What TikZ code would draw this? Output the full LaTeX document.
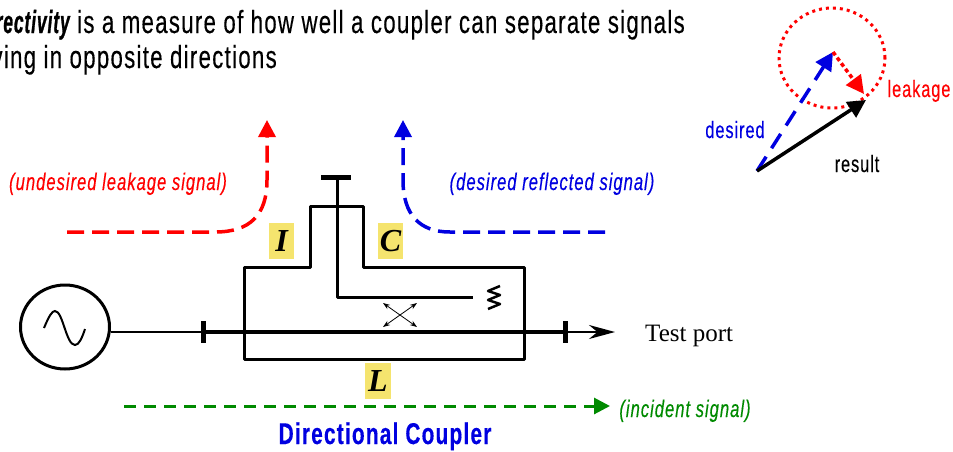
\documentclass[tikz,border=0pt]{standalone}
\usepackage{fontspec}
\usepackage{xcolor}
\setmainfont{Liberation Serif}
\setsansfont{Liberation Sans}[FakeStretch=0.695, LetterSpace=4, FakeBold=0.25]
\newfontfamily\keyword{Liberation Sans}[FakeStretch=0.54, LetterSpace=3, FakeBold=0.8]
\usetikzlibrary{arrows.meta,shapes.geometric}
\definecolor{labelyellow}{HTML}{F5E46E}
\definecolor{sigblue}{HTML}{0000E0}
\definecolor{siggreen}{HTML}{008A00}
\tikzset{
    wire/.style={line width=3pt, line join=round},
    tick/.style={line width=5pt},
    signal/.style={line width=3.5pt, dash pattern=on 17pt off 8pt, -{Triangle[length=17pt,width=17pt]}},
    portlabel/.style={fill=labelyellow, inner sep=0pt, font=\fontsize{32}{32}\selectfont\bfseries\itshape},
    sigtext/.style={font=\sffamily\itshape\fontsize{24}{24}\selectfont, inner sep=0pt, anchor=base},
    vectext/.style={font=\sffamily\fontsize{23.5}{24}\selectfont, inner sep=0pt, anchor=base},
    headtext/.style={font=\sffamily\fontsize{32}{32}\selectfont, inner sep=0pt, anchor=base east},
}
\begin{document}
\begin{tikzpicture}[x=1pt, y=-1pt]
    \useasboundingbox (0,0) rectangle (953,451);

    % Tekst boven
    \node[headtext] (line1) at (685,33) {{\keyword\bfseries\itshape Directivity} is a measure of how well a coupler can separate signals};
    \node[headtext] (line2) at (277,68) {moving in opposite directions};

    % Punten
    \coordinate (TL) at (244,267);
    \coordinate (IT) at (310,267);
    \coordinate (IU) at (310,206);
    \coordinate (CU) at (363,206);
    \coordinate (CT) at (363,267);
    \coordinate (TR) at (524,267);
    \coordinate (BR) at (524,359);
    \coordinate (BL) at (244,359);
    \coordinate (TopA) at (321,177);
    \coordinate (TopB) at (351,177);
    \coordinate (TopM) at (337,177);
    \coordinate (Bend) at (337,297);
    \coordinate (ArmEnd) at (473,297);
    \coordinate (PortA) at (203,332);
    \coordinate (PortB) at (565,332);
    \coordinate (PortEnd) at (615,332);

    % Labels op geel
    \node[portlabel, minimum width=25pt, minimum height=36pt] (I) at (281.5,241) {I};
    \node[portlabel, minimum width=25pt, minimum height=36pt] (C) at (390.5,241) {C};
    \node[portlabel, minimum width=26pt, minimum height=36pt] (L) at (378,381) {L};

    % Koppelaar
    \draw[wire] (TL) -- (IT) -- (IU) -- (CU) -- (CT) -- (TR) -- (BR) -- (BL) -- cycle;
    \draw[wire] (TopM) -- (Bend) -- (ArmEnd);
    \draw[tick] (TopA) -- (TopB);

    % Belasting
    \draw[line width=2.5pt, line join=round] (500,286) -- (488,291) -- (500,295) -- (488,300) -- (500,304) -- (488,309);

    % Kruis
    \draw[line width=0.8pt, {Stealth[length=7pt,width=5pt]}-{Stealth[length=7pt,width=5pt]}] (383,303) -- (417,327);
    \draw[line width=0.8pt, {Stealth[length=7pt,width=5pt]}-{Stealth[length=7pt,width=5pt]}] (417,303) -- (383,327);

    % Bron
    \node[draw, ellipse, line width=3pt, minimum width=89pt, minimum height=84pt, inner sep=0pt] (Src) at (65,327) {};
    \draw[line width=2pt] (44,328) .. controls (49,316) and (52,311) .. (55,311)
        .. controls (63,311) and (66,345) .. (75,345) .. controls (79,345) and (82,338) .. (85,329);

    % Lijn
    \draw[line width=2pt] (Src.east |- PortA) -- (PortA);
    \draw[line width=3.5pt] (PortA) -- (PortB);
    \draw[line width=2pt, -{Stealth[length=26pt,width=14pt]}] (PortB) -- (PortEnd);
    \draw[tick] (203,321) -- (203,343);
    \draw[tick] (565,321) -- (565,343);
    \node[inner sep=0pt, anchor=base west, font=\fontsize{25}{25}\selectfont] (Test) at (645,341) {Test port};

    % Signalen
    \coordinate (RedS) at (67,232);
    \coordinate (RedE) at (267,120);
    \coordinate (BlueS) at (605,232);
    \coordinate (BlueE) at (403,120);
    \coordinate (GreenS) at (124,406);
    \coordinate (GreenE) at (610,406);
    \draw[signal, red] (RedS) -- (215,232) .. controls (250,232) and (267,215) .. (267,180) -- (RedE);
    \draw[signal, sigblue] (BlueS) -- (450,232) .. controls (420,232) and (403,215) .. (403,180) -- (BlueE);
    \draw[line width=3pt, siggreen, dash pattern=on 12pt off 8pt, -{Triangle[length=16pt,width=16pt]}] (GreenS) -- (GreenE);
    \node[sigtext, red] (Leak) at (118,190) {(undesired leakage signal)};
    \node[sigtext, sigblue] (Refl) at (552,190) {(desired reflected signal)};
    \node[sigtext, siggreen] (Inc) at (685,417) {(incident signal)};
    \node[font=\sffamily\bfseries\fontsize{30}{30}\selectfont, text=sigblue, inner sep=0pt, anchor=base] (Title) at (385,444) {Directional Coupler};

    % Vectoren
    \coordinate (O) at (757,171);
    \coordinate (D) at (833,52);
    \coordinate (R) at (866,100);
    \coordinate (K) at (864,94);
    \draw[red, line width=3pt, dash pattern=on 3pt off 4pt] (832,58) ellipse (53pt and 50pt);
    \draw[sigblue, line width=3.5pt, dash pattern=on 17pt off 10pt, -{Triangle[length=18pt,width=18pt]}] (O) -- (D);
    \draw[red, line width=3.5pt, dash pattern=on 4pt off 3pt, -{Triangle[length=18pt,width=18pt]}] (D) -- (K);
    \draw[line width=3.5pt, -{Triangle[length=18pt,width=18pt]}] (O) -- (R);
    \node[vectext, sigblue] (Des) at (735,138) {desired};
    \node[vectext, red] (Lk) at (919,97) {leakage};
    \node[vectext] (Res) at (857,172) {result};
\end{tikzpicture}
\end{document}
